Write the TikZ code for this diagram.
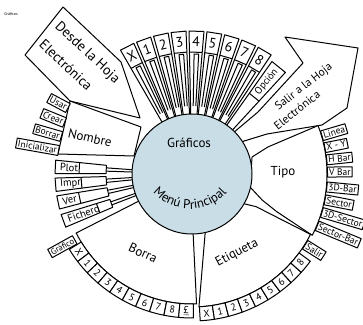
\documentclass[tikz,border=0pt]{standalone}
\usepackage{fontspec}
\setmainfont{PT Sans}
\usetikzlibrary{calc,decorations.text}
\definecolor{disc}{HTML}{C9DDE7}
\begin{document}
\begin{tikzpicture}[x=1pt,y=1pt,line width=1pt,line join=round,
  big/.style={font=\fontsize{13}{14}\selectfont},
  huge/.style={font=\fontsize{14}{15}\selectfont},
  mid/.style={font=\fontsize{11.5}{12}\selectfont},
  tabd/.style={font=\fontsize{14}{15}\selectfont},
  ringd/.style={font=\fontsize{10}{11}\selectfont,inner sep=0pt},
  boxl/.style={draw,fill=white,inner sep=1.6pt,font=\fontsize{9.5}{10}\selectfont},
  shapefill/.style={draw,fill=white}]
\useasboundingbox (0,0) rectangle (363,324);
\fill[white] (0,0) rectangle (363,324);
\coordinate (C) at (192,150);

% big arrows and Nombre region (pixel coordinates)
\begin{scope}[shift={(0,324)},yscale=-1]
 \draw[shapefill] (63,7) -- (121,62) -- (140,118) -- (70,101) -- (25,55) -- cycle;
 \draw[shapefill] (233,133) -- (258,112) -- (303,63) -- (285,37) -- (358,48) -- (347,108) -- (322,125) -- (267,134) -- (241,142) -- cycle;
 \draw[shapefill] (70,101) -- (141,127) -- (134,156) -- (58,154) -- cycle;
\end{scope}

% Tipo region
\draw[shapefill] ($(C)+(19.6:80.6pt)$) -- ($(C)+(21:135pt)$) arc[start angle=21,end angle=-27,radius=135pt]
  -- ($(C)+(-24:93pt)$) -- ($(C)+(-20.4:75pt)$) -- ($(C)+(-12.6:59.4pt)$) -- ($(C)+(15.8:62.4pt)$) -- cycle;
% Etiqueta region
\draw[shapefill] ($(C)+(283:59pt)$) -- ($(C)+(273:133pt)$) arc[start angle=273,end angle=333,radius=133pt]
  -- ($(C)+(333:72pt)$) -- ($(C)+(330:59pt)$) -- cycle;
% Borra region
\draw[shapefill] ($(C)+(207:58pt)$) -- ($(C)+(207:130pt)$) arc[start angle=207,end angle=272,radius=130pt]
  -- ($(C)+(271:57pt)$) -- cycle;

% Borra ring
\foreach \a/\t in {214.5/X,220.4/1,226.3/2,232.2/3,238.1/4,244/5,249.9/6,255.8/7,261.7/8,267.6/\underline{£}}{
 \begin{scope}[shift={(C)},rotate=\a]
  \draw[fill=white] (-2.95:130pt) arc[start angle=-2.95,end angle=2.95,radius=130pt] -- (2.95:144pt) arc[start angle=2.95,end angle=-2.95,radius=144pt] -- cycle;
  \node[ringd,rotate=90,transform shape] at (137,0) {\t};
 \end{scope}}
\node[boxl,anchor=east,rotate=29,font=\fontsize{8.5}{9}\selectfont] (grafico) at ($(C)+(209.3:134pt)$) {Gráfico};

% Etiqueta ring
\foreach \a/\t in {276/X,281.6/1,287.2/2,292.8/3,298.4/4,304/5,309.6/6,315.2/7,320.8/8}{
 \begin{scope}[shift={(C)},rotate=\a]
  \draw[fill=white] (-2.8:133pt) arc[start angle=-2.8,end angle=2.8,radius=133pt] -- (2.8:147pt) arc[start angle=2.8,end angle=-2.8,radius=147pt] -- cycle;
  \node[ringd,rotate=90,transform shape] at (140,0) {\t};
 \end{scope}}
\node[boxl,anchor=west,rotate=-32] (salir2) at ($(C)+(328:133pt)$) {Salir};

% Tipo list
\foreach \a/\t [count=\i] in {16.4/Linea,11.2/X - Y,6/H Bar,0.8/V Bar,-5.5/3D-Bar,-11/Sector,-16.5/3D-Sector,-22.5/Sector-Bar}{
 \node[boxl,anchor=west,rotate=\a] (tipo\i) at ($(C)+(\a:135pt)$) {\t};}

% Nombre list
\node[boxl,anchor=east,rotate=-28] (usar) at ($(C)+(152:140pt)$) {Usar};
\node[boxl,anchor=east,rotate=-22] (crear) at ($(C)+(158:137pt)$) {Crear};
\node[boxl,anchor=east,rotate=-16] (borrar) at ($(C)+(164:135.5pt)$) {Borrar};
\node[boxl,anchor=east,rotate=-10] (inic) at ($(C)+(170:135pt)$) {Inicializar};

% left tabs
\foreach \a/\t/\d in {177/Plot/113,184.5/Impr./111,192/Ver/115,200/Fichero/100}{
 \begin{scope}[shift={(C)},rotate=\a]
  \draw (-1.1:56pt) -- (-1.1:86pt) (1.1:56pt) -- (1.1:86pt);
  \draw[fill=white] (-2.8:86pt) -- (-2.8:137pt) -- (2.8:137pt) -- (2.8:86pt) -- cycle;
  \draw (-2.8:\d pt) -- (2.8:\d pt);
  \node[font=\fontsize{10.5}{11}\selectfont,rotate=180,transform shape,anchor=west] at (136,0) {\t};
 \end{scope}}

% top tabs
\foreach \a/\t in {117/X,109.8/1,102.6/2,95.4/3,88.2/4,81/5,73.8/6,66.6/7,59.4/8}{
 \begin{scope}[shift={(C)},rotate=\a]
  \draw[fill=white] (-3:56pt) -- (-3:143pt) -- (3:143pt) -- (3:56pt);
  \draw (-3:122pt) -- (3:122pt);
  \draw (-1.4:68pt) -- (-1.4:120pt) -- (0.8:120pt) -- (0.8:68pt);
  \node[tabd,rotate=-90,transform shape] at (132.5,0) {\t};
 \end{scope}}
\begin{scope}[shift={(C)},rotate=51]
 \draw[fill=white] (-3.6:56pt) -- (-3.6:138pt) -- (3.6:138pt) -- (3.6:56pt);
 \draw (-3.6:99pt) -- (3.6:99pt);
 \node[font=\fontsize{10}{11}\selectfont,transform shape] at (118.5,0) {Opción};
\end{scope}

% central disc
\fill[disc] (C) circle[radius=60pt];
\draw (C) circle[radius=60pt];

% texts
\node[font=\fontsize{4}{5}\selectfont] (corner) at (11,310) {Gráficos};
\node[huge,rotate=-43] (desde1) at (87,271) {Desde la Hoja};
\node[huge,rotate=-43] (desde2) at (66,259) {Electrónica};
\node[mid,rotate=38] (salir1) at (304,237) {Salir a la Hoja};
\node[mid,rotate=38] (salir3) at (297,214) {Electrónica};
\node[big,rotate=-13] (nombre) at (90,186) {Nombre};
\node[big] (tipo) at (283,152) {Tipo};
\node[big,rotate=-25] (borra) at (143,71) {Borra};
\node[big,rotate=28] (etiqueta) at (237,71) {Etiqueta};
\node[big] (graficos) at (189,181) {Gráficos};
\path[decorate,decoration={text along path,text align=center,
  text={|\fontsize{13}{14}\selectfont|Menú Principal}}]
  ($(190,164)+(205:49pt)$) arc[start angle=205,end angle=335,radius=49pt];
\end{tikzpicture}
\end{document}
